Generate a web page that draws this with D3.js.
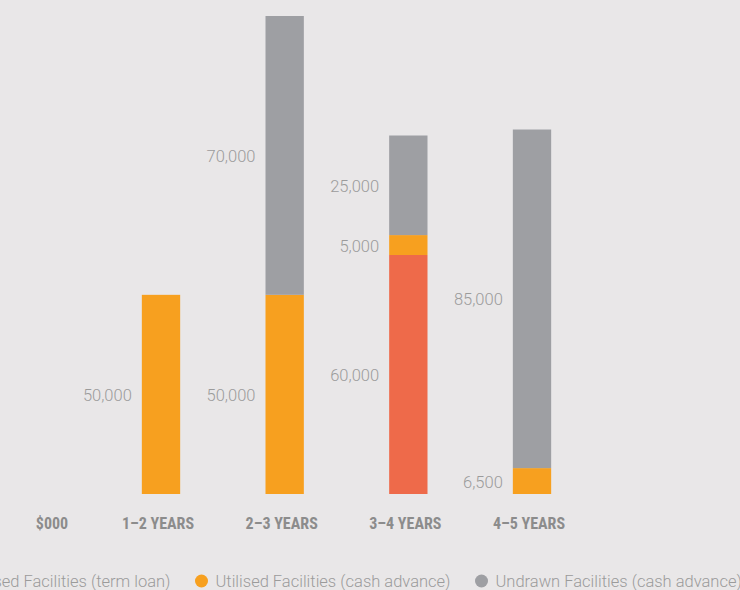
<!DOCTYPE html>
<html>
<head>
<meta charset="utf-8">
<script src="https://cdnjs.cloudflare.com/ajax/libs/d3/7.8.5/d3.min.js"></script>
<style>
  html, body { margin: 0; padding: 0; background: #e9e7e8; overflow: hidden; }
  svg { display: block; }
</style>
</head>
<body>
<div id="chart"></div>
<script>
// data ($000)
var categories = ["1–2 YEARS", "2–3 YEARS", "3–4 YEARS", "4–5 YEARS"];
var termLoan = [0, 0, 60000, 0];
var cashAdvance = [50000, 50000, 5000, 6500];
var undrawn = [0, 70000, 25000, 85000];
var seriesNames = ["Utilised Facilities (term loan)", "Utilised Facilities (cash advance)", "Undrawn Facilities (cash advance)"];
var unitLabel = "$000";

var colors = ["#ee6a4a", "#f7a01f", "#9e9fa3"];

var svgWidth = 740, svgHeight = 590;

var svg = d3.select("#chart").append("svg")
  .attr("width", svgWidth)
  .attr("height", svgHeight);

//////////
// AXES //
//////////

var x = d3.scaleBand()
  .domain(categories)
  .range([80, 613])
  .paddingInner(0.69)
  .paddingOuter(0.5);

var y = d3.scaleLinear()
  .domain([0, 120000])
  .range([494, 16]);

var rows = categories.map(function (c, i) {
  return { cat: c, term: termLoan[i], cash: cashAdvance[i], undrawn: undrawn[i] };
});
var keys = ["term", "cash", "undrawn"];
var stacked = d3.stack().keys(keys)(rows);

var labelFont = "Roboto, 'Liberation Sans', sans-serif";
var catFont = "'Liberation Sans Narrow', 'Roboto Condensed', sans-serif";

//////////
// BARS //
//////////

stacked.forEach(function (layer, k) {
  var segs = layer.filter(function (d) { return d[1] - d[0] > 0; });

  svg.append("g")
    .selectAll("rect")
    .data(segs)
    .enter().append("rect")
    .attr("x", function (d) { return x(d.data.cat); })
    .attr("width", x.bandwidth())
    .attr("y", function (d) { return y(d[1]); })
    .attr("height", function (d) { return y(d[0]) - y(d[1]); })
    .attr("fill", colors[k]);

  // value label left of each segment
  svg.append("g")
    .selectAll("text")
    .data(segs)
    .enter().append("text")
    .attr("x", function (d) { return x(d.data.cat) - 10; })
    .attr("y", function (d) { return (y(d[0]) + y(d[1])) / 2; })
    .attr("dy", "0.4em")
    .attr("text-anchor", "end")
    .style("font-family", labelFont)
    .style("font-weight", 300)
    .style("font-size", "16.5px")
    .style("fill", "#9b9b9b")
    .text(function (d) { return d3.format(",")(d[1] - d[0]); });
});

// category labels
svg.append("g")
  .selectAll("text")
  .data(categories)
  .enter().append("text")
  .attr("x", function (d) { return x(d) + x.bandwidth() / 2 - 3; })
  .attr("y", 529)
  .attr("text-anchor", "middle")
  .style("font-family", catFont)
  .style("font-weight", "bold")
  .style("font-size", "16px")
  .style("fill", "#8c8c8c")
  .text(function (d) { return d; });

svg.append("text")
  .attr("x", 52)
  .attr("y", 529)
  .attr("text-anchor", "middle")
  .style("font-family", catFont)
  .style("font-weight", "bold")
  .style("font-size", "16px")
  .style("fill", "#8c8c8c")
  .text(unitLabel);

////////////
// LEGEND //
////////////

// legend is wider than the view, clipped at both sides like the original
var legend = svg.append("g");
var lx = 0;
seriesNames.forEach(function (name, i) {
  var item = legend.append("g").attr("transform", "translate(" + lx + ",0)");
  item.append("circle")
    .attr("cx", 6)
    .attr("cy", 581)
    .attr("r", 6.5)
    .attr("fill", colors[i]);
  var t = item.append("text")
    .attr("x", 20)
    .attr("y", 581)
    .attr("dy", "0.36em")
    .style("font-family", labelFont)
    .style("font-weight", 300)
    .style("font-size", "16.5px")
    .style("fill", "#9b9b9b")
    .text(name);
  lx += 20 + t.node().getComputedTextLength() + 25;
});
var legendWidth = lx - 25;
legend.attr("transform", "translate(" + (344 - legendWidth / 2) + ",0)");
</script>
</body>
</html>
